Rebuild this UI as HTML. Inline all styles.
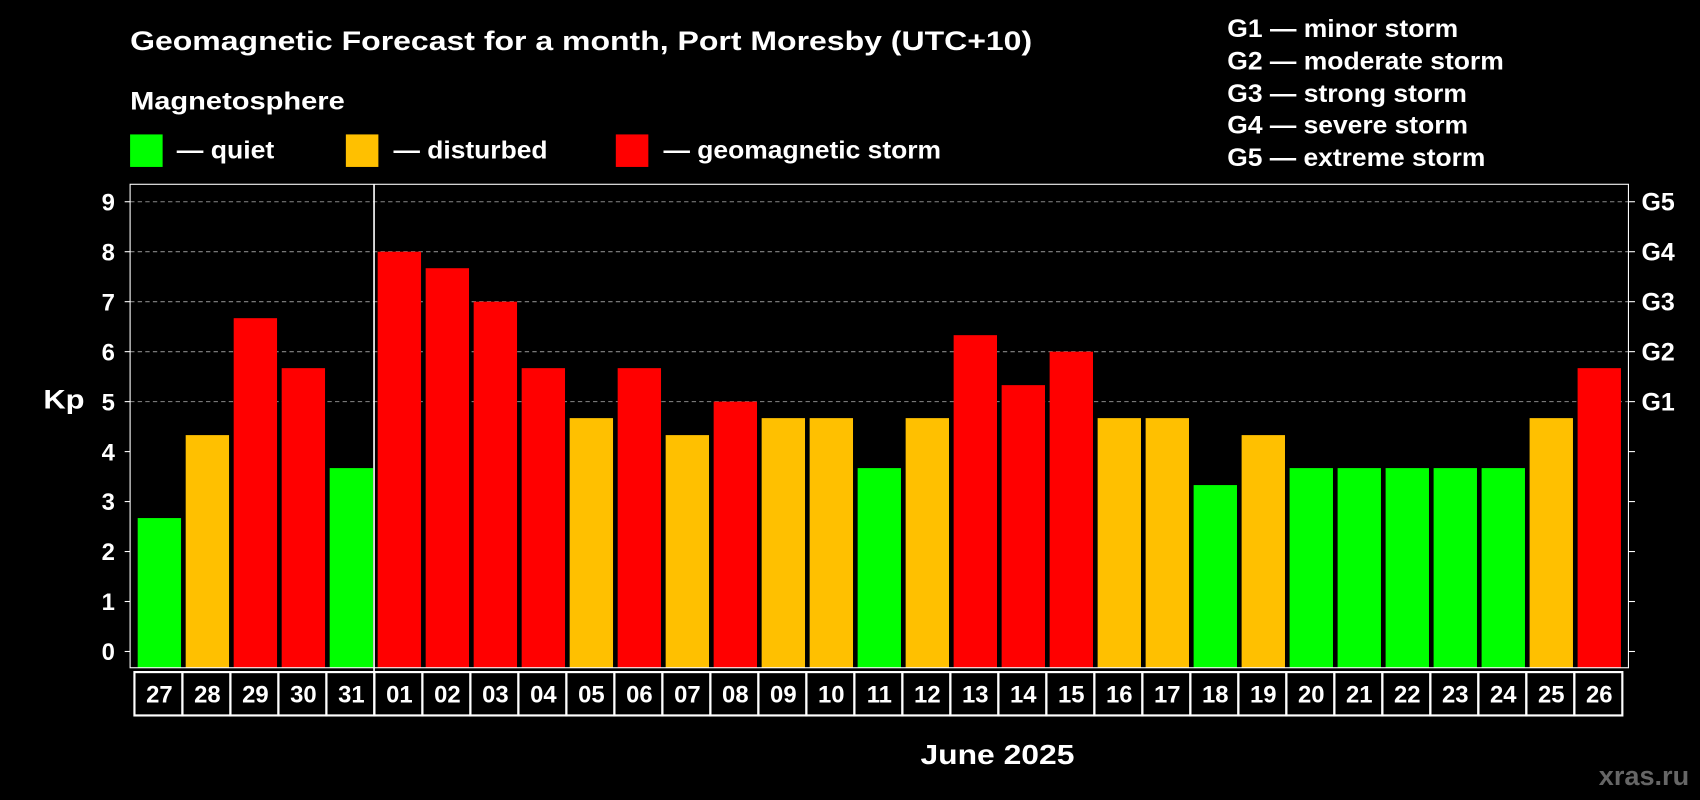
<!DOCTYPE html>
<html><head><meta charset="utf-8"><style>
html,body{margin:0;padding:0;background:#000;}
svg{display:block;font-family:"Liberation Sans",sans-serif;font-weight:bold;}
</style></head><body>
<svg id="chart" width="1700" height="800" viewBox="0 0 1568 738" preserveAspectRatio="none" xmlns="http://www.w3.org/2000/svg">
<rect width="1568" height="738" fill="#000"/>
<text x="120" y="46" fill="#fff" font-size="25" textLength="832" lengthAdjust="spacingAndGlyphs">Geomagnetic Forecast for a month, Port Moresby (UTC+10)</text>
<text x="120" y="101" fill="#fff" font-size="23" textLength="198" lengthAdjust="spacingAndGlyphs">Magnetosphere</text>
<g><rect x="120" y="124" width="30" height="30" fill="#00ff00"/><text x="163" y="146" fill="#fff" font-size="23" textLength="90" lengthAdjust="spacingAndGlyphs">— quiet</text></g>
<g><rect x="319" y="124" width="30" height="30" fill="#ffc000"/><text x="363" y="146" fill="#fff" font-size="23" textLength="142" lengthAdjust="spacingAndGlyphs">— disturbed</text></g>
<g><rect x="568" y="124" width="30" height="30" fill="#ff0000"/><text x="612" y="146" fill="#fff" font-size="23" textLength="256" lengthAdjust="spacingAndGlyphs">— geomagnetic storm</text></g>
<g fill="#fff" font-size="23">
<text x="1132" y="34" textLength="213" lengthAdjust="spacingAndGlyphs">G1 — minor storm</text>
<text x="1132" y="64" textLength="255" lengthAdjust="spacingAndGlyphs">G2 — moderate storm</text>
<text x="1132" y="94" textLength="221" lengthAdjust="spacingAndGlyphs">G3 — strong storm</text>
<text x="1132" y="123" textLength="222" lengthAdjust="spacingAndGlyphs">G4 — severe storm</text>
<text x="1132" y="153" textLength="238" lengthAdjust="spacingAndGlyphs">G5 — extreme storm</text>
</g>
<g id="grid"></g>
<g id="bars"></g>
<g id="axes"></g>
<text x="40" y="377" fill="#fff" font-size="25" textLength="38" lengthAdjust="spacingAndGlyphs">Kp</text>
<text x="849" y="705" fill="#fff" font-size="26" textLength="142" lengthAdjust="spacingAndGlyphs">June 2025</text>
<text x="1558" y="724" fill="#666" font-size="25" text-anchor="end">xras.ru</text>
</svg>
<script>
const days = ["27","28","29","30","31","01","02","03","04","05","06","07","08","09","10","11","12","13","14","15","16","17","18","19","20","21","22","23","24","25","26"];
const kp = [2.67,4.33,6.67,5.67,3.67,8,7.67,7,5.67,4.67,5.67,4.33,5,4.67,4.67,3.67,4.67,6.33,5.33,6,4.67,4.67,3.33,4.33,3.67,3.67,3.67,3.67,3.67,4.67,5.67];
const yTicks = [0,1,2,3,4,5,6,7,8,9];
const gLabels = ["G1","G2","G3","G4","G5"];
const NS="http://www.w3.org/2000/svg";
const L=120,R=1502,T=170,B=616;
const y=v=>601-v*46.1;
const x=i=>127+i*44.27;
const bw=40;
function mk(t,a,p){const e=document.createElementNS(NS,t);for(const k in a)e.setAttribute(k,a[k]);p.appendChild(e);return e;}
const grid=document.getElementById('grid'),bars=document.getElementById('bars'),axes=document.getElementById('axes');
yTicks.forEach(v=>{
  if(v>=5){const g=mk('line',{x1:L,x2:R,y1:y(v),y2:y(v),stroke:'#888','stroke-dasharray':'4,3','stroke-width':1},grid);
  
  }
  const t=mk('text',{x:106,y:y(v)+8,fill:'#fff','font-size':22,'text-anchor':'end'},axes);t.textContent=v;
  
  
  mk('line',{x1:L-5,x2:L,y1:y(v),y2:y(v),stroke:'#fff'},axes);
  mk('line',{x1:R,x2:R+6,y1:y(v),y2:y(v),stroke:'#fff'},axes);
  if(v>=5){const g=mk('text',{x:1514,y:y(v)+8,fill:'#fff','font-size':23},axes);g.textContent=gLabels[v-5];
  
  }
});
kp.forEach((v,i)=>{
  const c=v<4?'#00ff00':(v<5?'#ffc000':'#ff0000');
  const r=mk('rect',{x:x(i),y:y(v),width:bw,height:B-y(v),fill:c},bars);
  
  
  mk('rect',{x:x(i)-3,y:620,width:44.27,height:40,fill:'none',stroke:'#fff','stroke-width':2},axes);
  const t=mk('text',{x:x(i)+bw/2,y:648,fill:'#fff','font-size':22,'text-anchor':'middle'},axes);t.textContent=days[i];
  
  
});
mk('rect',{x:L,y:T,width:R-L,height:B-T,fill:'none',stroke:'#fff','stroke-width':1},axes);
mk('line',{x1:345,x2:345,y1:T,y2:660,stroke:'#fff','stroke-width':1.5},axes);
</script>
</body></html>
